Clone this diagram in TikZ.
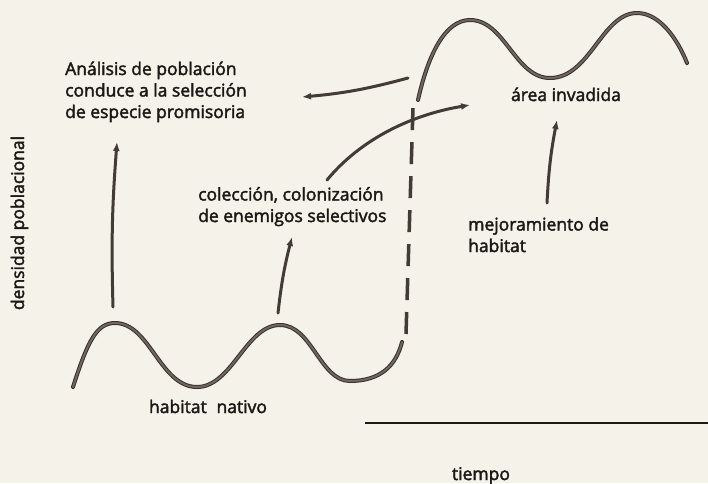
\documentclass[tikz,border=0pt]{standalone}
\usepackage{fontspec}
\setmainfont{Open Sans}
\newfontfamily\lblfont{Open Sans}[FakeBold=2.2]
\usetikzlibrary{arrows.meta}
\tikzset{>={Latex[length=9pt,width=7pt]}}
\definecolor{paper}{RGB}{244,242,233}
\definecolor{ink}{RGB}{112,102,94}
\definecolor{edge}{RGB}{55,48,44}
\definecolor{txt}{RGB}{28,24,22}
\tikzset{
  wave/.style={line width=4pt, edge, line cap=round, postaction={draw=ink, line width=2pt}},
  flow/.style={->, line width=3pt, edge!80!ink, line cap=round},
  lbl/.style={text=txt, font=\lblfont\fontsize{17.5}{21.5}\selectfont, align=left, inner sep=0pt},
}

\begin{document}
\begin{tikzpicture}[x=1pt,y=-1pt]
                % Paper and frame
                \fill[paper] (0,0) rectangle (708,483);
                \useasboundingbox (0,0) rectangle (708,483);

                % Labels (base = last line)
                \node[lbl, anchor=base west] (analisis) at (65,118) {Análisis de población\\conduce a la selección\\de especie promisoria};
                \node[lbl, anchor=base west] (coleccion) at (198,222) {colección, colonización\\de enemigos selectivos};
                \node[lbl, anchor=base] (invadida) at (566,101) {área invadida};
                \node[lbl, anchor=base west] (mejora) at (468,252) {mejoramiento de\\habitat};
                \node[lbl, anchor=base] (nativo) at (208,413) {habitat\hspace{0.3em} nativo};
                \node[lbl, anchor=base] (tiempo) at (481,480) {tiempo};
                \node[lbl, anchor=base, rotate=90] (densidad) at (24,223) {densidad poblacional};

                % Draw the native and invaded population curves
                \draw[wave] (73,387) .. controls (88,340) and (97,323) .. (115,323)
                    .. controls (150,323) and (160,387) .. (197,387)
                    .. controls (232,387) and (246,325) .. (280,325)
                    .. controls (312,325) and (320,381) .. (350,381)
                    .. controls (380,381) and (396,366) .. (402,342);
                \draw[wave] (418,100) .. controls (428,55) and (445,20) .. (470,20)
                    .. controls (505,20) and (515,78) .. (550,78)
                    .. controls (590,78) and (602,13) .. (637,13)
                    .. controls (660,13) and (678,40) .. (687,63);

                % Dashed jump from native to invaded area
                \coordinate (jumplo) at (406,334);
                \coordinate (jumphi) at (413,108);
                \draw[line width=3.5pt, edge!80!ink, dash pattern=on 22pt off 12pt] (jumplo) -- (jumphi);

                % Draw the arrows
                \coordinate (peak1) at (113,307);
                \coordinate (peak2) at (278,313);
                \coordinate (colstart) at (327,180);
                \coordinate (invstart) at (408,78);
                \coordinate (mejtop) at (547,203);
                \draw[flow] (peak1) to[bend left=3] (117,142);
                \draw[flow] (peak2) to[bend left=4] (292,237);
                \draw[flow] (colstart) .. controls (360,140) and (410,115) .. (470,105);
                \draw[flow] (invstart) to[bend left=5] (302,97);
                \draw[flow] (mejtop) to[bend left=4] (557,120);

                % Time axis
                \draw[line width=2pt, txt] (365,423) -- (708,423);
\end{tikzpicture}
\end{document}
